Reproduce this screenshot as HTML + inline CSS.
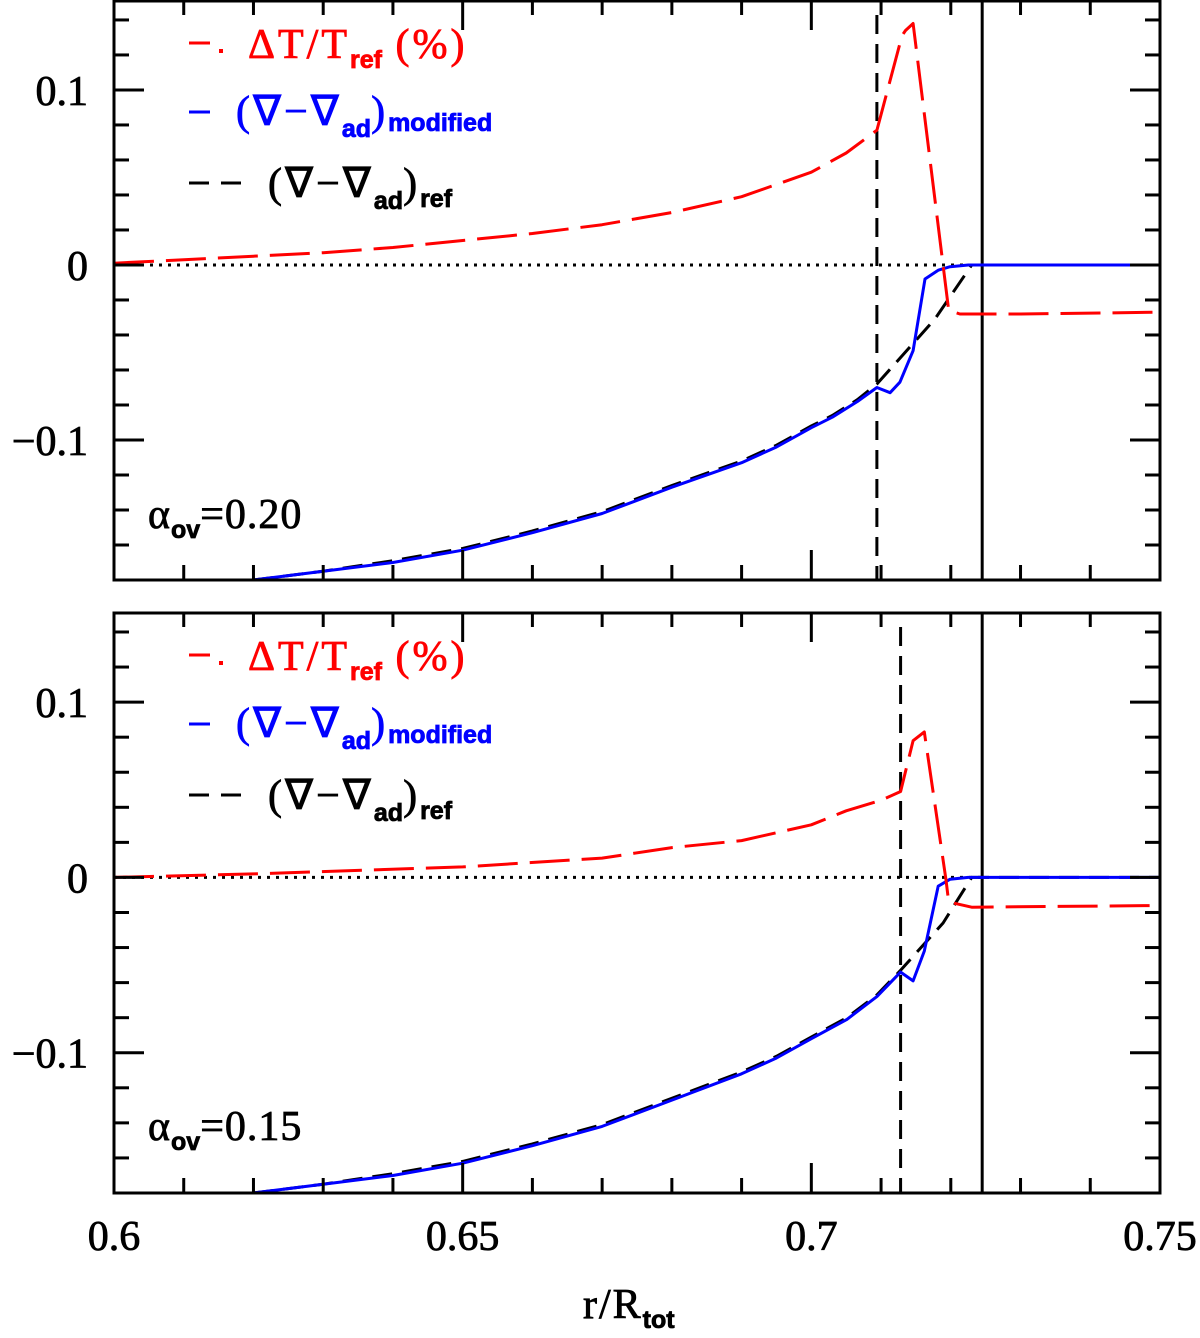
<!DOCTYPE html>
<html><head><meta charset="utf-8"><style>
body{margin:0;background:#fff}
svg{display:block}
text{font-family:"Liberation Serif",serif;stroke-width:0.8px}
.sub{font-family:"Liberation Sans",sans-serif;font-weight:bold}
</style></head><body>
<svg id="chart" width="1200" height="1338" viewBox="0 0 1200 1338"></svg>
<script>
// ---- data ----
const xTicksMajor = [0.6, 0.65, 0.7, 0.75];
const xTickLabels = ["0.6", "0.65", "0.7", "0.75"];
const yTicksMajor = [-0.1, 0, 0.1];
const yTickLabels = ["\u22120.1", "0", "0.1"];
const panelAlpha = ["0.20", "0.15"];
const convLineX = [0.7094, 0.7128];
const czBaseX = 0.7245;

const redTopX = [0.6,0.61,0.62,0.63,0.64,0.65,0.66,0.67,0.68,0.69,0.70,0.705,0.7094,0.7130,0.7135,0.7146,0.7197,0.7213,0.73,0.75];
const redTopY = [0.001,0.003,0.005,0.007,0.010,0.014,0.018,0.023,0.030,0.039,0.053,0.064,0.077,0.131,0.134,0.138,-0.026,-0.028,-0.028,-0.027];
const blueTopX = [0.62,0.63,0.64,0.65,0.66,0.67,0.68,0.69,0.695,0.70,0.703,0.7066,0.7094,0.7113,0.7127,0.7146,0.7163,0.7182,0.7199,0.7225,0.75];
const blueTopY = [-0.180,-0.175,-0.170,-0.163,-0.153,-0.142,-0.127,-0.113,-0.104,-0.093,-0.087,-0.078,-0.070,-0.073,-0.067,-0.049,-0.008,-0.003,-0.001,0,0];
const refTopX = [0.62,0.63,0.64,0.65,0.66,0.67,0.68,0.69,0.695,0.70,0.703,0.7066,0.7094,0.7177,0.7230,0.75];
const refTopY = [-0.180,-0.175,-0.169,-0.162,-0.152,-0.141,-0.126,-0.112,-0.103,-0.092,-0.086,-0.077,-0.068,-0.031,0,0];

const redBotX = [0.6,0.62,0.65,0.67,0.68,0.69,0.70,0.705,0.71,0.7128,0.7146,0.7162,0.7193,0.7197,0.7230,0.75];
const redBotY = [0.000,0.002,0.006,0.011,0.017,0.021,0.030,0.038,0.044,0.049,0.078,0.083,-0.001,-0.014,-0.017,-0.016];
const blueBotX = [0.62,0.63,0.64,0.65,0.66,0.67,0.68,0.69,0.695,0.70,0.7051,0.7094,0.7128,0.7146,0.7162,0.7182,0.7199,0.7225,0.75];
const blueBotY = [-0.180,-0.175,-0.170,-0.163,-0.153,-0.142,-0.127,-0.112,-0.103,-0.092,-0.081,-0.068,-0.054,-0.059,-0.042,-0.005,-0.001,0,0];
const refBotX = [0.62,0.63,0.64,0.65,0.66,0.67,0.68,0.69,0.695,0.70,0.7051,0.7094,0.7128,0.7189,0.7230,0.75];
const refBotY = [-0.180,-0.175,-0.169,-0.162,-0.152,-0.141,-0.126,-0.111,-0.102,-0.091,-0.080,-0.067,-0.053,-0.026,0,0];

const NS = "http://www.w3.org/2000/svg";
const svg = document.getElementById('chart');
const L = 114, R = 1160;
const panels = [{top:0,bot:580},{top:612,bot:1193}];
const YMIN = -0.18, YMAX = 0.1514;
function sx(v){return L + (v-0.6)/0.15*(R-L);}
function makeSy(p){return v => p.bot - (v-YMIN)/(YMAX-YMIN)*(p.bot-p.top);}
function el(tag, attrs, parent){const e=document.createElementNS(NS,tag);for(const k in attrs)e.setAttribute(k,attrs[k]);(parent||svg).appendChild(e);return e;}
function poly(xs, ys, sy, color, dash, g, name){
  const pts = xs.map((x,i)=>sx(x).toFixed(1)+','+sy(ys[i]).toFixed(1)).join(' ');
  const e = el('polyline',{points:pts,fill:'none',stroke:color,'stroke-width':3,'stroke-dasharray':dash||'none','stroke-linejoin':'round'},g);
  
  
  return e;
}
const series = [
  [redTopX,redTopY,blueTopX,blueTopY,refTopX,refTopY],
  [redBotX,redBotY,blueBotX,blueBotY,refBotX,refBotY]
];
panels.forEach((p,pi)=>{
  const sy = makeSy(p);
  const g = el('g',{});
  
  
  const cp = el('clipPath',{id:'clip'+pi},g);
  el('rect',{x:L,y:p.top,width:R-L,height:p.bot-p.top},cp);
  const pg = el('g',{'clip-path':'url(#clip'+pi+')'},g);
  const z = el('line',{x1:L,x2:sx(czBaseX),y1:sy(0),y2:sy(0),stroke:'#000','stroke-width':3,'stroke-dasharray':'3 6'},pg);
  
  
  const vd = el('line',{x1:sx(convLineX[pi]),x2:sx(convLineX[pi]),y1:p.top+15,y2:p.bot,stroke:'#000','stroke-width':3,'stroke-dasharray':'19 10'},pg);
  
  
  const vs = el('line',{x1:sx(czBaseX),x2:sx(czBaseX),y1:p.top,y2:p.bot,stroke:'#000','stroke-width':3},pg);
  
  
  const s = series[pi];
  poly(s[4],s[5],sy,'#000','20 10',pg,'ref-gradient-line');
  poly(s[2],s[3],sy,'#0000ff',null,pg,'modified-gradient-line');
  poly(s[0],s[1],sy,'#ff0000','40 12',pg,'delta-t-line');
  const fr = el('rect',{x:L,y:p.top+1,width:R-L,height:p.bot-p.top-1,fill:'none',stroke:'#000','stroke-width':3},g);
  
  
  for(let i=0;i<=15;i++){
    const v=0.6+i*0.01, x=sx(v), len=(i%5===0)?30:15;
    el('line',{x1:x,x2:x,y1:p.top,y2:p.top+len,stroke:'#000','stroke-width':3},g);
    el('line',{x1:x,x2:x,y1:p.bot,y2:p.bot-len,stroke:'#000','stroke-width':3},g);
  }
  for(let i=-9;i<=7;i++){
    const v=i*0.02; const y=sy(v); if(y<p.top||y>p.bot) continue;
    const len=(i%5===0)?30:15;
    el('line',{x1:L,x2:L+len,y1:y,y2:y,stroke:'#000','stroke-width':3},g);
    el('line',{x1:R,x2:R-len,y1:y,y2:y,stroke:'#000','stroke-width':3},g);
  }
  yTicksMajor.forEach((v,i)=>{
    const t = el('text',{x:88,y:sy(v)+15,'font-size':42,'text-anchor':'end',stroke:'#000'},g);
    t.textContent = yTickLabels[i];
    
    
  });
  const o = p.top;
  const lg = el('g',{},g);
  
  
  el('line',{x1:189,x2:210,y1:o+43,y2:o+43,stroke:'#ff0000','stroke-width':3},lg);
  el('rect',{x:219,y:o+49,width:4,height:4,fill:'#ff0000'},lg);
  const t1 = el('text',{x:248,y:o+58,'font-size':42,fill:'#ff0000',stroke:'#ff0000','letter-spacing':3},lg);
  t1.innerHTML = 'ΔT/T<tspan class="sub" font-size="25" dy="10" letter-spacing="0">ref</tspan><tspan dy="-10">  (%)</tspan>';
  
  
  el('line',{x1:189,x2:210,y1:o+112,y2:o+112,stroke:'#0000ff','stroke-width':3},lg);
  const t2 = el('text',{x:236,y:o+125,'font-size':42,fill:'#0000ff',stroke:'#0000ff','letter-spacing':3},lg);
  t2.innerHTML = '(∇−∇<tspan class="sub" font-size="25" dy="12" letter-spacing="0">ad</tspan><tspan dy="-12">)</tspan><tspan class="sub" font-size="25" dy="6" letter-spacing="0">modified</tspan>';
  
  
  el('line',{x1:189,x2:242,y1:o+183,y2:o+183,stroke:'#000','stroke-width':3,'stroke-dasharray':'20 12'},lg);
  const t3 = el('text',{x:268,y:o+197,'font-size':42,fill:'#000',stroke:'#000','letter-spacing':3},lg);
  t3.innerHTML = '(∇−∇<tspan class="sub" font-size="25" dy="12" letter-spacing="0">ad</tspan><tspan dy="-12">)</tspan><tspan class="sub" font-size="25" dy="10" letter-spacing="0">ref</tspan>';
  
  
  const ta = el('text',{x:148,y:p.top+528,'font-size':42,stroke:'#000','letter-spacing':1},g);
  ta.innerHTML = 'α<tspan class="sub" font-size="25" dy="10" letter-spacing="0">ov</tspan><tspan dy="-10">=' + panelAlpha[pi] + '</tspan>';
  
  
});
xTicksMajor.forEach((v,i)=>{
  const t = el('text',{x:sx(v),y:1250,'font-size':42,'text-anchor':'middle',stroke:'#000'});
  t.textContent = xTickLabels[i];
  
  
});
const xt = el('text',{x:583,y:1318,'font-size':42,stroke:'#000','letter-spacing':2});
xt.innerHTML = 'r/R<tspan class="sub" font-size="25" dy="10" letter-spacing="0">tot</tspan>';


</script>
</body></html>
